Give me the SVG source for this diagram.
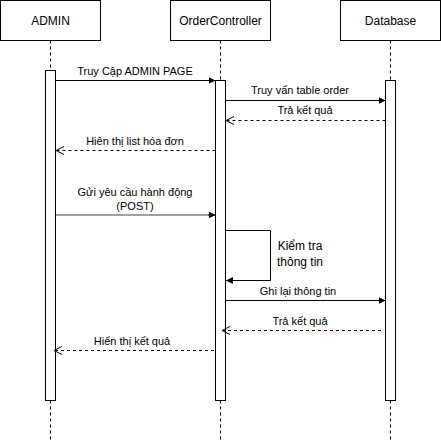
<svg xmlns="http://www.w3.org/2000/svg" width="441" height="441" viewBox="0 0 441 441">
<style>
.box{fill:#fff;stroke:#000;stroke-width:1}
.life{stroke:#000;stroke-dasharray:3,3;fill:none}
.act{fill:#fff;stroke:#000;stroke-width:1}
.msg{stroke:#000;stroke-width:1;fill:none}
.ret{stroke:#000;stroke-width:1;fill:none;stroke-dasharray:3,3}
.t{font-family:"Liberation Sans",Arial,sans-serif;font-size:11px;fill:#000;text-anchor:middle}
.h{font-family:"Liberation Sans",Arial,sans-serif;font-size:12px;fill:#000;text-anchor:middle}
</style>
<defs>
<marker id="fill" markerWidth="8" markerHeight="8" refX="7" refY="4" orient="auto" markerUnits="userSpaceOnUse">
<path d="M0,0.5 L7,4 L0,7.5 Z" fill="#000"/>
</marker>
<marker id="open" markerWidth="10" markerHeight="10" refX="8" refY="5" orient="auto" markerUnits="userSpaceOnUse">
<path d="M0,1 L8,5 L0,9" fill="none" stroke="#000"/>
</marker>
</defs>
<rect width="441" height="441" fill="#fff"/>
<g id="admin">
<rect class="box" x="0.5" y="0.5" width="100" height="40"/>
<text class="h" x="50.5" y="24.5">ADMIN</text>
<line class="life" x1="50.5" y1="40.5" x2="50.5" y2="440"/>
<rect class="act" x="45.5" y="70.5" width="10" height="330"/>
</g>
<g id="ordercontroller">
<rect class="box" x="170.5" y="0.5" width="100" height="40"/>
<text class="h" x="220.5" y="24.5">OrderController</text>
<line class="life" x1="220.5" y1="40.5" x2="220.5" y2="440"/>
<rect class="act" x="215.5" y="80.5" width="10" height="320"/>
</g>
<g id="database">
<rect class="box" x="340.5" y="0.5" width="100" height="40"/>
<text class="h" x="390.5" y="24.5">Database</text>
<line class="life" x1="390.5" y1="40.5" x2="390.5" y2="440"/>
<rect class="act" x="385.5" y="80.5" width="10" height="320"/>
</g>
<g id="connectors">
<line class="msg" x1="55.5" y1="80.5" x2="215.5" y2="80.5" marker-end="url(#fill)"/>
<text class="t" x="135" y="75">Truy Cập ADMIN PAGE</text>
<line class="msg" x1="225.5" y1="100.5" x2="385.5" y2="100.5" marker-end="url(#fill)"/>
<text class="t" x="300" y="94">Truy vấn table order</text>
<line class="ret" x1="385.5" y1="120.5" x2="226" y2="120.5" marker-end="url(#open)"/>
<text class="t" x="305" y="114">Trả kết quả</text>
<line class="ret" x1="215.5" y1="150.5" x2="56" y2="150.5" marker-end="url(#open)"/>
<text class="t" x="135" y="145">Hiên thị list hóa đơn</text>
<line x1="56" y1="215" x2="209" y2="215" stroke="#808080" stroke-width="1.5"/>
<line class="msg" x1="208" y1="215" x2="215.5" y2="215" marker-end="url(#fill)"/>
<text class="t" x="135" y="196">Gửi yêu cầu hành động</text>
<text class="t" x="135" y="210">(POST)</text>
<polyline class="msg" points="225.5,230.5 270.5,230.5 270.5,280.5 226,280.5" marker-end="url(#fill)"/>
<text class="h" x="300" y="250">Kiểm tra</text>
<text class="h" x="300" y="266">thông tin</text>
<line class="msg" x1="225.5" y1="300.5" x2="385.5" y2="300.5" marker-end="url(#fill)"/>
<text class="t" x="298" y="295">Ghi lại thông tin</text>
<line class="ret" x1="381" y1="330.5" x2="222" y2="330.5" marker-end="url(#open)"/>
<text class="t" x="300" y="325">Trả kết quả</text>
<line class="ret" x1="214" y1="350.5" x2="54" y2="350.5" marker-end="url(#open)"/>
<text class="t" x="132" y="345">Hiển thị kết quả</text>
</g>
</svg>
